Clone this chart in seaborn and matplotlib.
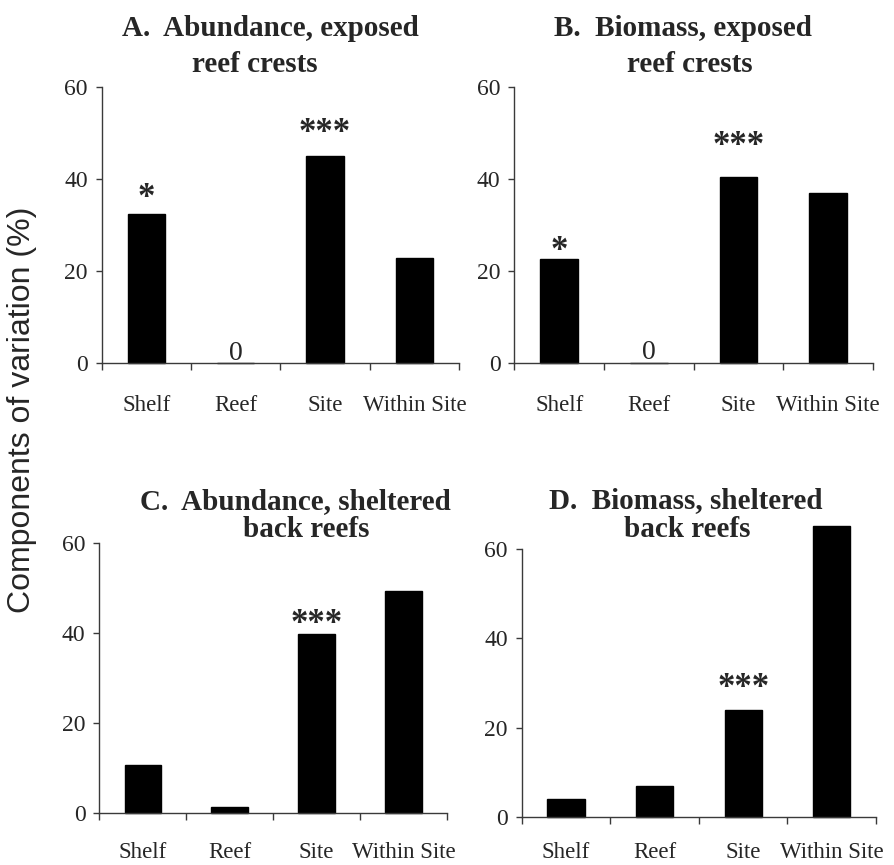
import matplotlib
matplotlib.use("Agg")
import matplotlib.pyplot as plt
import numpy as np
import pandas as pd
import seaborn as sns

# variance components (%)
components = ["Shelf", "Reef", "Site", "Within Site"]
abund_exposed = [32.3, 0.0, 45.0, 22.8]
biomass_exposed = [22.7, 0.0, 40.5, 36.9]
abund_sheltered = [10.6, 1.3, 39.7, 49.4]
biomass_sheltered = [4.0, 7.0, 23.9, 65.2]

# significance marks: (component, mark, baseline height)
stars_a = [("Shelf", "*", 33.8), ("Site", "***", 47.9)]
stars_b = [("Shelf", "*", 22.3), ("Site", "***", 45.2)]
stars_c = [("Site", "***", 40.1)]
stars_d = [("Site", "***", 26.8)]
zeros_a = [("Reef", "0", 0.8)]
zeros_b = [("Reef", "0", 0.8)]

titles = [
    ("A.  Abundance, exposed", "reef crests"),
    ("B.  Biomass, exposed", "reef crests"),
    ("C.  Abundance, sheltered", "back reefs"),
    ("D.  Biomass, sheltered", "back reefs"),
]

sns.set_style("white")
plt.rcParams["font.family"] = ["Liberation Serif", "DejaVu Serif"]

W, H = 894, 865
fig = plt.figure(figsize=(W / 100, H / 100), dpi=100)


def px_axes(x0, x1, ytop, ybot):
    return fig.add_axes([x0 / W, 1 - ybot / H, (x1 - x0) / W, (ybot - ytop) / H])


panels = [
    (px_axes(101.7, 459, 86.7, 363.3), abund_exposed, stars_a, zeros_a,
     [(270, 36), (255, 72)], 23),
    (px_axes(514.3, 873, 87.3, 362.7), biomass_exposed, stars_b, zeros_b,
     [(683, 36), (690, 72)], 23),
    (px_axes(99.3, 447, 543.3, 812.7), abund_sheltered, stars_c, [],
     [(295, 509), (306, 537)], 21),
    (px_axes(521.7, 876, 549.3, 816.7), biomass_sheltered, stars_d, [],
     [(686, 508), (687, 537)], 18),
]

axis_col = "#3a3a3a"

for i, (ax, vals, stars, zeros, tpos, lpad) in enumerate(panels):
    df = pd.DataFrame({"component": components, "value": vals})
    sns.barplot(data=df, x="component", y="value", color="black",
                width=0.42, saturation=1, ax=ax)
    for p in ax.patches:
        p.set_clip_on(False)
        p.set_edgecolor("black")
    ax.set_xlim(-0.5, 3.5)
    ax.set_ylim(0, 60)
    ax.set_yticks([0, 20, 40, 60])
    ax.set_xlabel("")
    ax.set_ylabel("")
    ax.tick_params(axis="x", which="major", length=0, pad=lpad, labelsize=16.5)
    ax.set_xticks(np.arange(-0.5, 4, 1.0), minor=True)
    ax.tick_params(axis="x", which="minor", length=5, direction="out",
                   width=1, color=axis_col, bottom=True)
    ax.tick_params(axis="y", length=4, direction="out", width=1,
                   color=axis_col, pad=6, labelsize=17, left=True)
    for s in ["top", "right"]:
        ax.spines[s].set_visible(False)
    for s in ["left", "bottom"]:
        ax.spines[s].set_color(axis_col)
        ax.spines[s].set_linewidth(1)
    for comp, mark, y in stars:
        ax.text(components.index(comp), y, mark, ha="center", va="baseline",
                fontsize=25, fontweight="bold")
    for comp, mark, y in zeros:
        ax.text(components.index(comp), y, mark, ha="center", va="baseline",
                fontsize=20)
    (l1, l2) = titles[i]
    fig.text(tpos[0][0] / W, 1 - tpos[0][1] / H, l1, ha="center",
             va="baseline", fontsize=21, fontweight="bold")
    fig.text(tpos[1][0] / W, 1 - tpos[1][1] / H, l2, ha="center",
             va="baseline", fontsize=21, fontweight="bold")

fig.text(22 / W, 1 - 410 / H, "Components of variation (%)", rotation=90,
         ha="center", va="center", fontsize=23,
         family=["Liberation Sans", "DejaVu Sans"])

fig.savefig("out.png", dpi=100)
